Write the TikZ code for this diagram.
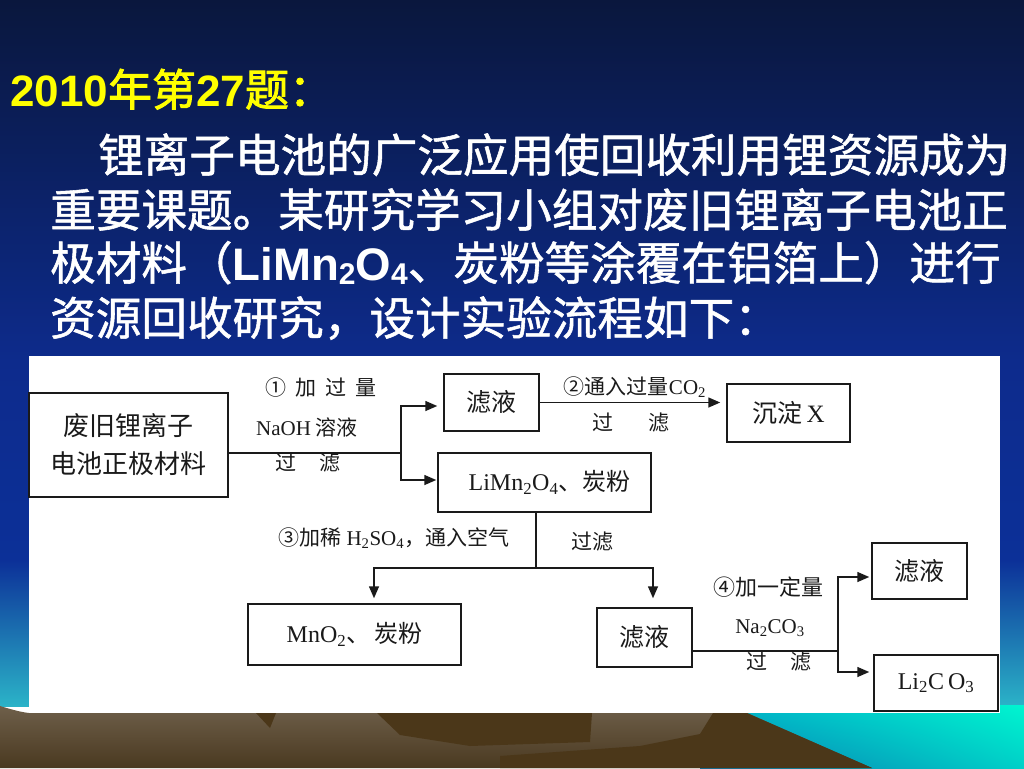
\documentclass[tikz,border=0pt]{standalone}
\usepackage{fontspec}
\setmainfont{Liberation Serif}
\newfontfamily\cjk{Noto Sans CJK SC}
\newfontfamily\cjkpar[FakeBold=1.2]{Noto Sans CJK SC}
\newfontfamily\cjktitle[FakeBold=2]{Noto Sans CJK SC}
\newfontfamily\arial{Liberation Sans}
\usetikzlibrary{arrows.meta,shadings}
\definecolor{bgA}{HTML}{0A173D}
\definecolor{bgB}{HTML}{0D2B8C}
\definecolor{bgC}{HTML}{0C3098}
\definecolor{bgD}{HTML}{2BB3C8}
\definecolor{aquaLL}{HTML}{0A78B0}
\definecolor{aquaUL}{HTML}{00B0C8}
\definecolor{aquaUR}{HTML}{00F5D0}
\definecolor{aquaLR}{HTML}{00D0C8}
\definecolor{groundT}{HTML}{6E5F4A}
\definecolor{groundB}{HTML}{4A3920}
\definecolor{groundD}{HTML}{4B3719}
\definecolor{ttl}{HTML}{FFFF00}
\definecolor{ink}{HTML}{1A1A1A}
\newcommand\psub[1]{\raisebox{-0.1em}{\fontsize{30}{30}\selectfont #1}}
\tikzset{
  box/.style={draw=ink, line width=1.5pt, fill=white, inner sep=0pt, text=ink,
    font=\fontsize{25}{30}\selectfont\cjk},
  lbl/.style={inner sep=0pt, text=ink, font=\fontsize{21}{25}\selectfont\cjk},
  conn/.style={line width=1.5pt, draw=ink},
  arr/.style={conn, -{Triangle[length=12pt,width=10pt]}},
  para/.style={anchor=base west, inner sep=0pt, text=white,
    font=\fontsize{45.6}{54}\selectfont\cjkpar}
}
\begin{document}
\begin{tikzpicture}[x=1pt,y=-1pt]
\useasboundingbox (0,0) rectangle (1024,768);
% background
\shade[top color=bgA, bottom color=bgB] (0,0) rectangle (1024,361);
\shade[top color=bgB, bottom color=bgC] (0,360) rectangle (1024,561);
\shade[top color=bgC, bottom color=bgD] (0,560) rectangle (1024,706);
\shade[lower left=aquaLL, upper left=aquaUL, upper right=aquaUR, lower right=aquaLR] (700,705) rectangle (1024,768);
\shade[top color=groundT, bottom color=groundB]
  (0,706) .. controls (10,709) and (20,712) .. (29,713) -- (747,713) -- (872,768) -- (0,768) -- cycle;
\fill[groundD] (256,713) -- (276,713) -- (270,728) -- cycle;
\fill[groundD] (377,713) -- (592,713) -- (590,742) -- (470,746) -- (400,735) -- cycle;
\fill[groundD] (713,713) -- (747,713) -- (872,768) -- (500,768) -- (500,756) -- (640,746) -- (700,734) -- cycle;
% white panel
\fill[white] (29,356) rectangle (1000,713);

% title and paragraph
\node[anchor=base west, inner sep=0pt, text=ttl, font=\fontsize{44}{48}\selectfont] (title) at (10,106)
  {{\arial\bfseries 2010}{\cjktitle 年第}{\arial\bfseries 27}{\cjktitle 题：}};
\node[para] (p1) at (98,172) {锂离子电池的广泛应用使回收利用锂资源成为};
\node[para] (p2) at (50,227) {重要课题。某研究学习小组对废旧锂离子电池正};
\node[para] (p3) at (50,280) {极材料（{\arial\bfseries LiMn\psub{2}O\psub{4}}、炭粉等涂覆在铝箔上）进行};
\node[para] (p4) at (50,335) {资源回收研究，设计实验流程如下：};

% boxes
\node[box, align=center, minimum width=199pt, minimum height=104pt, font=\fontsize{26}{30}\selectfont\cjk] (A) at (128.5,445) {废旧锂离子\\[8pt]电池正极材料};
\node[box, minimum width=95pt, minimum height=57pt] (F1) at (491.5,402.5) {滤液};
\node[box, minimum width=123pt, minimum height=58pt] (X) at (788.5,413) {沉淀\,{\rmfamily X}};
\node[box, minimum width=213pt, minimum height=59pt, font=\fontsize{24}{28}\selectfont\cjk] (L) at (544.5,482.5) {\hspace{10pt}{\rmfamily LiMn\textsubscript{2}O\textsubscript{4}}、炭粉};
\node[box, minimum width=213pt, minimum height=61pt, font=\fontsize{24}{28}\selectfont\cjk] (M) at (354.5,634.5) {{\rmfamily MnO\textsubscript{2}}、\,炭粉};
\node[box, minimum width=95pt, minimum height=59pt] (F2) at (644.5,637.5) {滤液};
\node[box, minimum width=95pt, minimum height=56pt] (F3) at (919.5,571) {滤液};
\node[box, minimum width=124pt, minimum height=56pt, font=\fontsize{24}{28}\selectfont\rmfamily] (C) at (936,683) {Li\textsubscript{2}C\,O\textsubscript{3}};

% labels
\node[lbl] (l1a) at (321,388) {①\hspace{9pt}加\hspace{9pt}过\hspace{9pt}量};
\node[lbl] (l1b) at (307,427) {{\rmfamily NaOH} 溶液};
\node[lbl] (l1c) at (308,463) {过\hspace{24pt}滤};
\node[lbl] (l2a) at (635,387) {②通入过量{\rmfamily CO\textsubscript{2}}};
\node[lbl] (l2b) at (631,423) {过\hspace{35pt}滤};
\node[lbl] (l3a) at (394,538) {③加稀 {\rmfamily H\textsubscript{2}SO\textsubscript{4}}，通入空气};
\node[lbl] (l3b) at (592,542) {过滤};
\node[lbl, font=\fontsize{22}{26}\selectfont\cjk] (l4a) at (768,587) {④加一定量};
\node[lbl] (l4b) at (770,628) {{\rmfamily Na\textsubscript{2}CO\textsubscript{3}}};
\node[lbl] (l4c) at (779,662) {过\hspace{24pt}滤};

% connectors
\coordinate (b1) at (401,453);
\coordinate (b1t) at (401,406);
\coordinate (b1b) at (401,480);
\draw[conn] (A.east |- b1) -- (b1);
\draw[arr] (b1) -- (b1t) -- ([xshift=-6pt]F1.west |- b1t);
\draw[arr] (b1) -- (b1b) -- ([xshift=-1pt]L.west |- b1b);
\draw[arr, shorten >=6pt] (F1.east) -- (F1.east -| X.west);

\coordinate (j2) at (536,568);
\coordinate (hl) at (374,568);
\coordinate (hr) at (653,568);
\draw[conn] (j2 |- L.south) -- (j2);
\draw[arr, shorten >=5pt] (j2) -- (hl) -- (M.north -| hl);
\draw[arr, shorten >=9pt] (j2) -- (hr) -- (F2.north -| hr);

\coordinate (j3) at (838,651);
\coordinate (j3t) at (838,577);
\coordinate (j3b) at (838,672);
\draw[conn] (F2.east |- j3) -- (j3);
\draw[arr, shorten >=2pt] (j3) -- (j3t) -- (F3.west |- j3t);
\draw[arr, shorten >=4pt] (j3) -- (j3b) -- (C.west |- j3b);
\end{tikzpicture}
\end{document}
